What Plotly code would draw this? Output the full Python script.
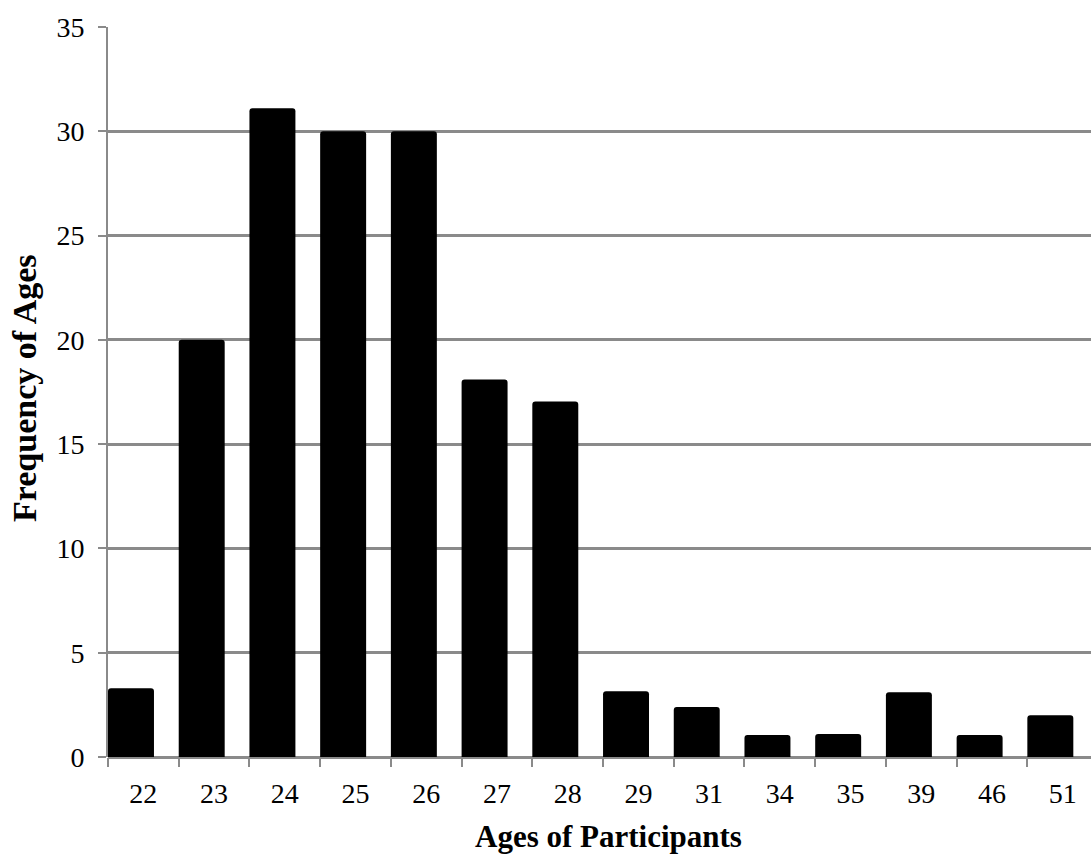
import plotly.graph_objects as go

ages = ["22", "23", "24", "25", "26", "27", "28", "29", "31", "34", "35", "39", "46", "51"]
frequency = [3.3, 20, 31.1, 30, 30, 18.1, 17.05, 3.15, 2.4, 1.05, 1.1, 3.1, 1.05, 2.0]
y_ticks = [0, 5, 10, 15, 20, 25, 30, 35]

FONT = "Liberation Serif, Times New Roman, serif"
GRID = "#8a8a8a"

fig = go.Figure(
    go.Bar(
        x=ages,
        y=frequency,
        marker=dict(color="black", cornerradius=3, line=dict(width=0)),
        width=0.65,
        offset=-0.5,
        hoverinfo="x+y",
    )
)

fig.update_layout(
    width=1091,
    height=854,
    margin=dict(l=108, r=0, t=27, b=97),
    plot_bgcolor="white",
    paper_bgcolor="white",
    showlegend=False,
    font=dict(family=FONT, color="black", size=28),
)

fig.update_xaxes(
    type="category",
    range=[-0.5, 13.4],
    tickson="boundaries",
    ticks="outside",
    ticklen=9,
    tickwidth=2,
    tickcolor=GRID,
    showline=False,
    showgrid=False,
    tickfont=dict(family=FONT, size=28, color="black"),
    ticklabelstandoff=17,
)

fig.update_yaxes(
    range=[0, 35],
    tickvals=y_ticks,
    ticks="outside",
    ticklen=8,
    tickwidth=2,
    tickcolor=GRID,
    showline=True,
    linecolor=GRID,
    linewidth=2,
    showgrid=True,
    gridcolor=GRID,
    gridwidth=2.5,
    zeroline=True,
    zerolinecolor=GRID,
    zerolinewidth=2.5,
    tickfont=dict(family=FONT, size=28, color="black"),
    ticklabelstandoff=8,
)

fig.add_annotation(
    text="<b>Ages of Participants</b>",
    xref="paper", yref="paper",
    x=(608 - 108) / 983, y=-(836 - 757) / 730,
    xanchor="center", yanchor="middle",
    showarrow=False,
    font=dict(family=FONT, size=31, color="black"),
)
fig.add_annotation(
    text="<b>Frequency of Ages</b>",
    xref="paper", yref="paper",
    x=(24 - 108) / 983, y=(757 - 388) / 730,
    xanchor="center", yanchor="middle",
    textangle=-90,
    showarrow=False,
    font=dict(family=FONT, size=34, color="black"),
)

fig.write_html(
    "out.html",
    config={"displayModeBar": False},
    post_script="document.body.style.margin='0';",
)
